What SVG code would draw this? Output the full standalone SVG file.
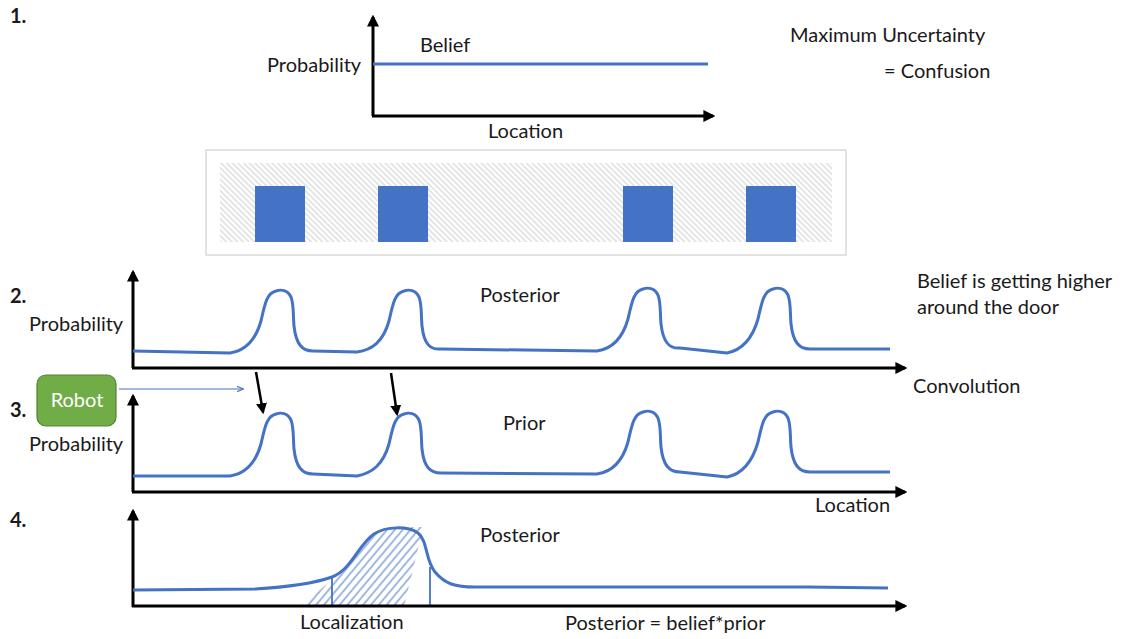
<svg xmlns="http://www.w3.org/2000/svg" width="1122" height="639" viewBox="0 0 1122 639">
<style>
text{font-family:Lato,"Open Sans","Liberation Sans",sans-serif;font-size:20px;fill:#1a1a1a}
.num{font-weight:bold;font-size:20px}
.axis{stroke:#000;stroke-width:3;fill:none}
.curve{stroke:#4472c4;stroke-width:3;fill:none;stroke-linejoin:round}
.dark{stroke:#000;stroke-width:2.5;fill:none}
</style>
<defs>
<marker id="ah" viewBox="0 0 10 10" refX="8" refY="5" markerWidth="4" markerHeight="4" orient="auto" markerUnits="strokeWidth"><path d="M0,0L10,5L0,10z" fill="#000"/></marker>
<marker id="ad" viewBox="0 0 10 10" refX="8" refY="5" markerWidth="4.4" markerHeight="4.4" orient="auto" markerUnits="strokeWidth"><path d="M0,0L10,5L0,10z" fill="#000"/></marker>
<marker id="ahb" viewBox="0 0 10 10" refX="9" refY="5" markerWidth="7" markerHeight="7" orient="auto" markerUnits="strokeWidth"><path d="M0,1L10,5L0,9" fill="none" stroke="#4472c4" stroke-width="1.5"/></marker>
<pattern id="gh" patternUnits="userSpaceOnUse" width="4" height="4" patternTransform="rotate(-45)"><rect width="4" height="4" fill="#fff"/><line x1="1" y1="0" x2="1" y2="4" stroke="#d4d4d4" stroke-width="1.2"/></pattern>
<pattern id="bh" patternUnits="userSpaceOnUse" width="6" height="6" patternTransform="rotate(40)"><line x1="1" y1="0" x2="1" y2="6" stroke="#4472c4" stroke-width="1"/></pattern>
<clipPath id="hc"><polygon points="300,606 332,580 345,566 358,549 370,537 383,530 398,527 423,527 413,570 404,606"/></clipPath>
</defs>

<g id="section1">
<text class="num" x="10" y="23">1.</text>
<text x="267" y="72">Probability</text>
<text x="420" y="52">Belief</text>
<text x="488" y="138">Location</text>
<text x="790" y="42">Maximum Uncertainty</text>
<text x="884" y="78">= Confusion</text>
<path class="axis" d="M373,116V17" marker-end="url(#ah)"/>
<path class="axis" d="M372,116H713" marker-end="url(#ah)"/>
<path class="curve" d="M373,64H708"/>
</g>

<g id="map">
<rect x="206" y="150" width="640" height="105" fill="#fff" stroke="#d9d9d9" stroke-width="1.5"/>
<rect x="220" y="163" width="612" height="79" fill="url(#gh)"/>
<rect x="255" y="186" width="50" height="56" fill="#4472c4"/>
<rect x="378" y="186" width="50" height="56" fill="#4472c4"/>
<rect x="623" y="186" width="50" height="56" fill="#4472c4"/>
<rect x="746" y="186" width="50" height="56" fill="#4472c4"/>
</g>

<g id="section2">
<text class="num" x="10" y="303">2.</text>
<text x="29" y="331">Probability</text>
<text x="480" y="302">Posterior</text>
<text x="917" y="288">Belief is getting higher</text>
<text x="917" y="314">around the door</text>
<text x="913" y="393">Convolution</text>
<path class="axis" d="M133,368V272" marker-end="url(#ah)"/>
<path class="axis" d="M132,368H905" marker-end="url(#ah)"/>
<path class="curve" d="M133,351L230,353C244,351 255,342 261,321C265,303 267,293 276,291C282,289 288,291 291,297C294,305 293,315 294,326C296,344 302,351 313,351L357,352C372,350 383,342 389,321C393,303 395,293 404,291C410,289 416,291 419,297C422,305 421,315 422,326C424,344 430,350 441,349L597,351C611,349 622,340 628,319C632,301 634,291 643,289C649,287 655,289 658,295C661,303 660,313 661,324C663,342 669,349 680,348L727,353C742,350 752,340 758,319C762,301 764,291 773,289C779,287 785,289 788,295C791,303 790,313 791,324C793,342 799,349 810,349L890,349"/>
</g>

<g id="robot">
<rect x="37" y="375" width="79" height="51" rx="9" fill="#70ad47" stroke="#548235" stroke-width="1.2"/>
<text x="77" y="407" text-anchor="middle" style="fill:#fff">Robot</text>
</g>

<g id="section3">
<text class="num" x="10" y="417">3.</text>
<text x="29" y="451">Probability</text>
<text x="503" y="430">Prior</text>
<text x="815" y="512">Location</text>
<path class="axis" d="M133,492V396" marker-end="url(#ah)"/>
<path class="axis" d="M132,492H905" marker-end="url(#ah)"/>
<path class="curve" d="M133,476L230,476C244,474 255,465 261,444C265,426 267,416 276,414C282,412 288,414 291,420C294,428 293,438 294,449C296,467 302,474 313,474L357,476C372,473 383,465 389,444C393,426 395,416 404,414C410,412 416,414 419,420C422,428 421,438 422,449C424,467 430,473 441,473L597,474C611,472 622,463 628,442C632,424 634,414 643,412C649,410 655,412 658,418C661,426 660,436 661,447C663,465 669,472 680,472L727,477C742,474 752,463 758,442C762,424 764,414 773,412C779,410 785,412 788,418C791,426 790,436 791,447C793,465 799,472 810,472L890,472"/>
</g>

<g id="section4">
<text class="num" x="10" y="527">4.</text>
<text x="480" y="542">Posterior</text>
<text x="300" y="629">Localization</text>
<text x="565" y="630">Posterior = belief*prior</text>
<rect x="300" y="520" width="130" height="90" fill="url(#bh)" clip-path="url(#hc)"/>
<path d="M332,578V606M430,567V606" stroke="#4472c4" stroke-width="1.8"/>
<path class="axis" d="M133,607V511" marker-end="url(#ah)"/>
<path class="axis" d="M132,606H905" marker-end="url(#ah)"/>
<path class="curve" d="M133,590L255,589C290,587 315,583 332,577C352,569 358,545 374,534C386,526 408,526 418,533C428,541 425,560 435,572C445,584 455,587 475,587L808,587L888,588"/>
</g>

<g id="connectors">
<path class="dark" d="M256,372L263,412" marker-end="url(#ad)"/>
<path class="dark" d="M391,373L397,414" marker-end="url(#ad)"/>
<path d="M119,389H243" stroke="#4472c4" stroke-width="1" fill="none" marker-end="url(#ahb)"/>
</g>
</svg>
